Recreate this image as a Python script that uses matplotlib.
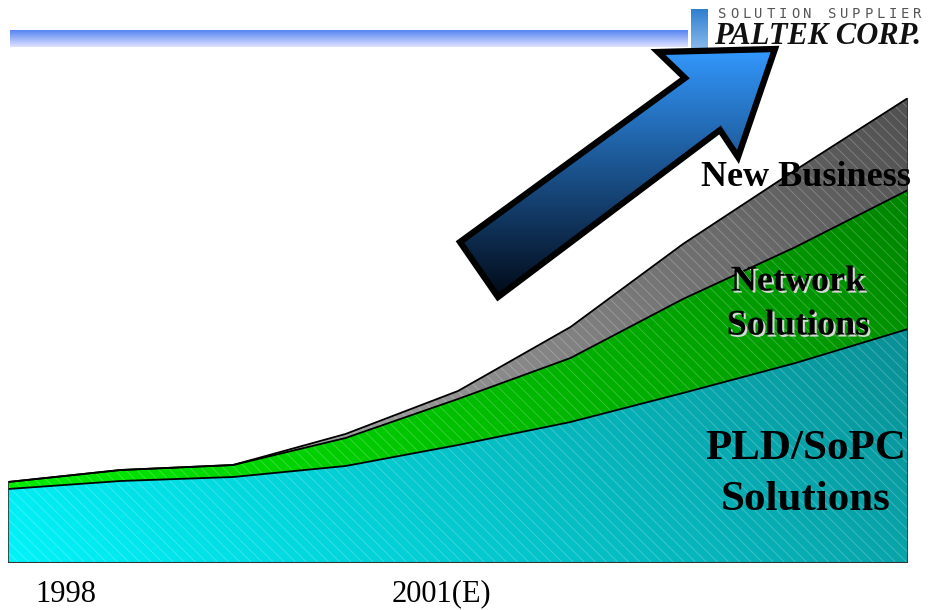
import numpy as np
import matplotlib
matplotlib.use("Agg")
from matplotlib import pyplot as plt
from matplotlib.patches import Polygon
import matplotlib.patheffects as pe
from matplotlib.colors import to_rgb

# data (stacked layers, arbitrary units)
periods = np.arange(9)
pld_sopc = [74, 82, 86, 97, 118, 141, 170, 200, 234]
network = [7, 11, 12, 28, 46, 64, 94, 116, 139]
new_business = [0, 0, 0, 4, 8, 31, 55, 77, 92]
year_labels = ["1998", "2001(E)"]

plt.rcParams['hatch.linewidth'] = 0.6
serif = ['Liberation Serif', 'DejaVu Serif']

fig = plt.figure(figsize=(9.29, 6.10), dpi=100)
W, H = 929, 610
ax = fig.add_axes([8 / W, 47 / H, 900 / W, 465 / H])
ax.set_xlim(0, 8)
ax.set_ylim(0, 465)
ax.axis('off')


def grad_img(c0, c1, n=200):
    # diagonal gradient, bright at lower-left, dark at upper-right
    xx, yy = np.meshgrid(np.linspace(0, 1, n), np.linspace(0, 1, n))
    t = np.clip(0.65 * xx + 0.35 * yy, 0, 1)[..., None]
    return np.array(to_rgb(c0)) * (1 - t) + np.array(to_rgb(c1)) * t


base = np.zeros(len(periods))
layers = [(pld_sopc, '#00f4fa', '#0c7a80'),
          (network, '#00f400', '#007c00'),
          (new_business, '#c4c4c4', '#505050')]
for vals, c0, c1 in layers:
    top = base + np.array(vals)
    poly = ax.fill_between(periods, base, top, facecolor='none', linewidth=0)
    im = ax.imshow(grad_img(c0, c1), extent=[0, 8, 0, 465], origin='lower',
                   aspect='auto', zorder=1)
    im.set_clip_path(poly.get_paths()[0], ax.transData)
    ax.fill_between(periods, base, top, facecolor='none', edgecolor='white',
                    hatch='\\\\\\', linewidth=0, alpha=0.25, zorder=2)
    ax.plot(periods, top, color='black', lw=1.3, zorder=3)
    base = top

ax.plot([0, 0], [0, base[0]], color='#333333', lw=1.2, zorder=3)
ax.plot([8, 8], [0, base[-1]], color='#333333', lw=1.2, zorder=3)
ax.plot([0, 8], [0, 0], color='#333333', lw=1.5, zorder=3)

# overlay in pixel coords for the decorations
ov = fig.add_axes([0, 0, 1, 1])
ov.set_xlim(0, W)
ov.set_ylim(H, 0)
ov.axis('off')
ov.patch.set_visible(False)

# header bar
bar = np.linspace(0, 1, 50)[:, None, None]
top_c = np.array(to_rgb('#5585f2'))
bot_c = np.array(to_rgb('#dfe2ff'))
ov.imshow(top_c * (1 - bar) + bot_c * bar, extent=[10, 688, 47, 30],
          aspect='auto', zorder=1)

# logo
lg = np.linspace(0, 1, 50)[:, None, None]
ov.imshow(np.array(to_rgb('#2f7fd0')) * (1 - lg) + np.array(to_rgb('#86b8ea')) * lg,
          extent=[691, 708, 48, 9], aspect='auto', zorder=1)
for i, ch in enumerate("SOLUTION SUPPLIER"):
    ov.text(722 + i * 12.2, 14, ch, fontsize=10, color='#555555',
            family='DejaVu Sans Mono', va='center', ha='center')
ov.text(714, 37, "PALTEK CORP.", fontsize=22, fontweight='bold', style='italic',
        family=serif, va='center', ha='left', color='#111111')

# arrow
arrow = [(460, 242), (685, 78), (658, 52), (775, 49), (738, 157), (720, 130), (498, 297)]
ag = np.linspace(0, 1, 100)[:, None, None]
arr_img = np.array(to_rgb('#3399ff')) * (1 - ag) + np.array(to_rgb('#020a18')) * ag
aim = ov.imshow(arr_img, extent=[455, 780, 297, 47], aspect='auto', zorder=4)
apoly = Polygon(arrow, closed=True, facecolor='none', edgecolor='black',
                lw=4.5, joinstyle='miter', zorder=5)
ov.add_patch(apoly)
aim.set_clip_path(apoly)

# labels
ov.text(806, 177, "New Business", fontsize=26, fontweight='bold', family=serif,
        ha='center', va='center', zorder=6)
shadow = [pe.withSimplePatchShadow(offset=(1.5, -1.5), shadow_rgbFace='#d8d8d8', alpha=1)]
ov.text(798, 282, "Network", fontsize=26, fontweight='bold', family=serif,
        ha='center', va='center', zorder=6, path_effects=shadow)
ov.text(798, 326, "Solutions", fontsize=26, fontweight='bold', family=serif,
        ha='center', va='center', zorder=6, path_effects=shadow)
ov.text(806, 449, "PLD/SoPC", fontsize=31, fontweight='bold', family=serif,
        ha='center', va='center', zorder=6)
ov.text(806, 500, "Solutions", fontsize=31, fontweight='bold', family=serif,
        ha='center', va='center', zorder=6)

ov.text(66, 594, year_labels[0], fontsize=22, family=serif, ha='center', va='center')
ov.text(441, 594, year_labels[1], fontsize=22, family=serif, ha='center', va='center')

fig.savefig("out.png", dpi=100)
